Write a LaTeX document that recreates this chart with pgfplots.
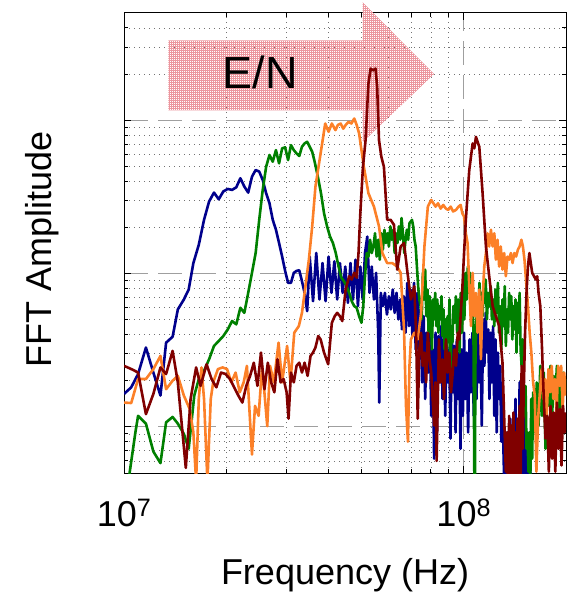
\documentclass[border=0pt]{standalone}
\usepackage{fontspec}
\setmainfont{Liberation Sans}
\usepackage{pgfplots}
\usetikzlibrary{patterns}
\pgfplotsset{compat=1.18}

\definecolor{cnavy}{RGB}{0,0,140}
\definecolor{cgreen}{RGB}{0,128,0}
\definecolor{corange}{RGB}{252,128,40}
\definecolor{cdred}{RGB}{128,0,0}
\definecolor{carrow}{RGB}{236,150,158}

% fine red mesh used for the E/N arrow
\pgfdeclarepatternformonly{finegrid}{\pgfqpoint{-1pt}{-1pt}}{\pgfqpoint{3pt}{3pt}}{\pgfqpoint{2pt}{2pt}}{
  \pgfsetlinewidth{0.5pt}
  \pgfpathmoveto{\pgfqpoint{0pt}{1pt}}\pgfpathlineto{\pgfqpoint{2pt}{1pt}}
  \pgfpathmoveto{\pgfqpoint{1pt}{0pt}}\pgfpathlineto{\pgfqpoint{1pt}{2pt}}
  \pgfusepath{stroke}
}

\begin{document}
\begin{tikzpicture}
\useasboundingbox (-124pt,-120pt) rectangle (446pt,473pt);
\begin{axis}[
    at={(0,0)}, anchor=south west,
    scale only axis, width=442pt, height=460pt,
    xmode=log, ymode=log,
    xmin=1e7, xmax=2e8, ymin=0.005, ymax=5,
    clip mode=individual,
    xtick={1e7,1e8},
    xticklabels={10\textsuperscript{7},10\textsuperscript{8}},
    minor xtick={2e7,3e7,4e7,5e7,6e7,7e7,8e7,9e7,2e8},
    ytick={0.01,0.1,1},
    minor ytick={0.006,0.007,0.008,0.009,0.02,0.03,0.04,0.05,0.06,0.07,0.08,0.09,0.2,0.3,0.4,0.5,0.6,0.7,0.8,0.9,2,3,4},
    yticklabels={},
    grid=both,
    major grid style={gray!75, line width=0.8pt, dash pattern=on 24pt off 10pt},
    minor grid style={black!55, line width=0.6pt, dash pattern=on 1pt off 4pt},
    axis line style={black, line width=1pt},
    tick style={black, line width=0.8pt},
    major tick length=7pt, minor tick length=4pt,
    ticklabel style={font=\fontsize{36}{40}\selectfont},
    xticklabel style={anchor=base, yshift=-53pt},
    xlabel={Frequency (Hz)},
    ylabel={FFT Amplitude},
    every axis x label/.style={at={(axis description cs:0.5,0)}, anchor=base, yshift=-111pt,
      font=\fontsize{36}{40}\selectfont},
    every axis y label/.style={at={(axis description cs:0,0.487)}, xshift=-73pt, rotate=90,
      anchor=base, font=\fontsize{36}{40}\selectfont},
    every axis plot/.append style={line width=2.6pt, line join=round},
  ]

  % E/N arrow (drawn first, under the curves)
  \path[pattern=finegrid, pattern color=carrow]
    (axis cs:13.5e6,1.16) -- (axis cs:50.4e6,1.16) -- (axis cs:50.4e6,0.72)
    -- (axis cs:81.8e6,2.0) -- (axis cs:50.4e6,5.87) -- (axis cs:50.4e6,3.31)
    -- (axis cs:13.5e6,3.31) -- cycle;
  \node[font=\fontsize{45}{50}\selectfont] at (axis cs:25.2e6,2.05) {E/N};

  % lowest E/N
  \addplot[cnavy] coordinates {
    (10.0e6,0.0164) (10.5e6,0.0181) (11.0e6,0.0221) (11.6e6,0.0329) (12.2e6,0.0226)
    (12.8e6,0.0160) (13.3e6,0.0354) (13.9e6,0.0387) (14.4e6,0.0583) (15.0e6,0.0677)
    (15.5e6,0.0786) (16.0e6,0.117) (16.6e6,0.154) (17.2e6,0.224) (17.8e6,0.295)
    (18.4e6,0.337) (19.0e6,0.305) (19.6e6,0.343) (20.2e6,0.356) (20.8e6,0.351)
    (21.4e6,0.365) (22.0e6,0.418) (22.6e6,0.369) (23.2e6,0.337) (23.8e6,0.428)
    (24.4e6,0.473) (25.0e6,0.462) (25.6e6,0.407) (26.2e6,0.334) (26.8e6,0.287)
    (27.4e6,0.224) (28.0e6,0.193) (28.6e6,0.158) (29.2e6,0.129) (29.8e6,0.104)
    (30.4e6,0.0869) (31.0e6,0.0869) (31.6e6,0.101) (32.2e6,0.104) (32.8e6,0.105)
    (33.4e6,0.089) (34.0e6,0.0748) (34.6e6,0.0568) (35.2e6,0.129) (36.0e6,0.066)
    (36.8e6,0.136) (37.6e6,0.0677) (38.4e6,0.117) (39.2e6,0.066) (40.0e6,0.129)
    (40.8e6,0.0748) (41.6e6,0.120) (42.4e6,0.0677) (43.2e6,0.117) (44.0e6,0.0748)
    (44.8e6,0.111) (45.6e6,0.0644) (46.4e6,0.117) (47.2e6,0.0677) (48.0e6,0.123)
    (48.8e6,0.0613) (49.6e6,0.111) (50.4e6,0.0677) (51.2e6,0.136) (52.0e6,0.174)
    (52.8e6,0.0748) (53.6e6,0.111) (54.4e6,0.0677) (55.2e6,0.101) (56.0e6,0.0411)
    (56.4e6,0.0144) (57.0e6,0.0748) (57.8e6,0.0613) (58.6e6,0.0748) (59.4e6,0.054)
    (60.2e6,0.0711) (61.0e6,0.0583) (61.8e6,0.0786) (62.6e6,0.0554) (63.4e6,0.0748)
    (64.2e6,0.0502) (65.0e6,0.0677) (65.8e6,0.0432) (66.6e6,0.0711) (67.4e6,0.0411)
    (68.2e6,0.0869) (69.0e6,0.0454) (69.8e6,0.0786) (70.6e6,0.0391) (71.4e6,0.0869)
    (72.2e6,0.032) (73.0e6,0.0748) (73.8e6,0.0276) (74.6e6,0.0583) (75.4e6,0.0195)
    (76.2e6,0.0527) (77.0e6,0.0152) (77.8e6,0.0411) (78.6e6,0.0226) (79.4e6,0.0502)
    (80.2e6,0.0118) (81.0e6,0.032) (81.8e6,0.0062) (82.6e6,0.0411) (83.4e6,0.0092)
    (84.2e6,0.0391) (85.0e6,0.0195) (85.8e6,0.0454) (86.6e6,0.0152) (87.4e6,0.0372)
    (88.2e6,0.0118) (89.0e6,0.0411) (89.8e6,0.0195) (90.6e6,0.032) (91.4e6,0.0084)
    (92.2e6,0.0411) (93.0e6,0.0168) (93.8e6,0.0337) (94.6e6,0.0092) (95.4e6,0.0372)
    (96.2e6,0.0152) (97.0e6,0.0305) (97.8e6,0.0072) (98.6e6,0.032) (99.4e6,0.0118)
    (100.2e6,0.0411) (101e6,0.0152) (102e6,0.0305) (103e6,0.0092) (104e6,0.0372)
    (105e6,0.0168) (106e6,0.0411) (107e6,0.0118) (108e6,0.032) (109e6,0.0152)
    (110e6,0.0432) (111e6,0.0195) (112e6,0.0354) (113e6,0.0102) (114e6,0.0502)
    (115e6,0.025) (116e6,0.0554) (117e6,0.0305) (118e6,0.0432) (119e6,0.0152)
    (120e6,0.0411) (121e6,0.0195) (122e6,0.0454) (123e6,0.0118) (124e6,0.0372)
    (125e6,0.0092) (126e6,0.0305) (127e6,0.0152) (128e6,0.025) (129e6,0.008)
    (130e6,0.0195) (131e6,0.0062) (132e6,0.0034) (133e6,0.0044) (134e6,0.0092)
    (135e6,0.0034) (136e6,0.0051) (137e6,0.0113) (138e6,0.0034) (139e6,0.0072)
    (140e6,0.0034) (142e6,0.0152) (143e6,0.0044) (144e6,0.0092) (145e6,0.0034)
    (146e6,0.0195) (147e6,0.0056) (148e6,0.0118) (149e6,0.0034) (150e6,0.0084)
    (151e6,0.0034) (152e6,0.0118) (153e6,0.0034) (154e6,0.0062) (155e6,0.0034)
    (157e6,0.0051) (160e6,0.0034) (200e6,0.0034)
  };

  \addplot[cgreen] coordinates {
    (10.3e6,0.0044) (10.8e6,0.0092) (11.0e6,0.0118) (11.6e6,0.0105) (12.2e6,0.0069)
    (12.8e6,0.0058) (13.3e6,0.0107) (13.9e6,0.0116) (14.4e6,0.0105) (15.0e6,0.009)
    (15.5e6,0.0072) (16.1e6,0.016) (16.6e6,0.0205) (17.2e6,0.0232) (17.8e6,0.0276)
    (18.4e6,0.0337) (19.0e6,0.0363) (19.6e6,0.0391) (20.2e6,0.0432) (20.8e6,0.049)
    (21.4e6,0.0466) (22.0e6,0.0598) (22.6e6,0.0554) (23.2e6,0.0748) (23.8e6,0.101)
    (24.4e6,0.136) (25.0e6,0.224) (25.6e6,0.351) (26.2e6,0.497) (26.8e6,0.593)
    (27.4e6,0.536) (28.0e6,0.638) (28.6e6,0.523) (29.2e6,0.655) (29.8e6,0.665)
    (30.4e6,0.549) (31.0e6,0.688) (31.6e6,0.638) (32.2e6,0.607) (32.8e6,0.584)
    (33.4e6,0.671) (34.0e6,0.705) (34.6e6,0.723) (35.2e6,0.671) (35.8e6,0.622)
    (36.4e6,0.536) (37.2e6,0.428) (38.0e6,0.334) (38.8e6,0.247) (39.6e6,0.203)
    (40.4e6,0.174) (41.2e6,0.158) (42.0e6,0.136) (42.8e6,0.111) (43.6e6,0.094)
    (44.4e6,0.089) (45.2e6,0.0826) (46.0e6,0.0748) (46.8e6,0.066) (47.6e6,0.0613)
    (48.4e6,0.0598) (49.2e6,0.0527) (50.0e6,0.0477) (50.6e6,0.0613) (51.2e6,0.096)
    (51.8e6,0.136) (52.4e6,0.129) (53.0e6,0.166) (53.6e6,0.136) (54.2e6,0.150)
    (54.8e6,0.183) (55.4e6,0.129) (56.0e6,0.166) (56.6e6,0.123) (57.2e6,0.183)
    (57.8e6,0.143) (58.4e6,0.193) (59.0e6,0.158) (59.6e6,0.183) (60.2e6,0.150)
    (60.8e6,0.203) (61.4e6,0.166) (62.0e6,0.193) (62.6e6,0.136) (63.2e6,0.183)
    (63.8e6,0.158) (64.4e6,0.203) (65.0e6,0.166) (65.6e6,0.23) (66.2e6,0.183)
    (66.8e6,0.136) (67.4e6,0.166) (68.0e6,0.193) (68.6e6,0.166) (69.2e6,0.213)
    (69.8e6,0.218) (70.4e6,0.224) (71.0e6,0.203) (71.6e6,0.166) (72.2e6,0.150)
    (72.8e6,0.111) (73.4e6,0.0826) (74.0e6,0.0677) (74.6e6,0.0613) (75.2e6,0.0502)
    (75.8e6,0.101) (76.4e6,0.0677) (77.0e6,0.106) (77.6e6,0.0527) (78.2e6,0.0786)
    (78.8e6,0.0411) (79.4e6,0.0711) (80.0e6,0.0527) (80.6e6,0.032) (81.2e6,0.0677)
    (81.8e6,0.0502) (82.4e6,0.0748) (83.0e6,0.0454) (83.6e6,0.0677) (84.2e6,0.0411)
    (84.8e6,0.0613) (85.4e6,0.0502) (86.0e6,0.0711) (86.6e6,0.0391) (87.2e6,0.0583)
    (87.8e6,0.032) (88.4e6,0.0502) (89.0e6,0.025) (89.6e6,0.0527) (90.2e6,0.0411)
    (90.8e6,0.0677) (91.4e6,0.0195) (92.0e6,0.0454) (92.6e6,0.0354) (93.2e6,0.0613)
    (94.0e6,0.0477) (94.8e6,0.0711) (95.6e6,0.0411) (96.4e6,0.0677) (97.2e6,0.0305)
    (98.0e6,0.0748) (98.8e6,0.0411) (99.6e6,0.0826) (100.4e6,0.0502) (101.2e6,0.101)
    (102.0e6,0.0677) (102.8e6,0.111) (103.6e6,0.0748) (104.4e6,0.101) (105.2e6,0.0554)
    (106.0e6,0.0826) (106.8e6,0.0411) (107.4e6,0.0051) (107.8e6,0.0034) (108.2e6,0.025)
    (108.8e6,0.0454) (109.6e6,0.0677) (110.4e6,0.0502) (111.2e6,0.0869) (112.0e6,0.0583)
    (112.8e6,0.0748) (113.6e6,0.0527) (114.4e6,0.0826) (115.2e6,0.0644) (116e6,0.0913)
    (117e6,0.0502) (118e6,0.0748) (119e6,0.0613) (120e6,0.0826) (121e6,0.0502)
    (122e6,0.0677) (123e6,0.0454) (124e6,0.0786) (125e6,0.0554) (126e6,0.0869)
    (127e6,0.0411) (128e6,0.0613) (129e6,0.032) (130e6,0.0677) (131e6,0.0454)
    (132e6,0.0826) (133e6,0.0337) (134e6,0.0583) (135e6,0.0411) (136e6,0.0748)
    (137e6,0.0502) (138e6,0.0711) (139e6,0.0372) (140e6,0.0613) (141e6,0.0432)
    (142e6,0.0677) (143e6,0.0305) (144e6,0.0644) (145e6,0.0411) (146e6,0.0748)
    (147e6,0.032) (148e6,0.025) (149e6,0.0372) (150e6,0.0185) (151e6,0.0118)
    (152e6,0.0185) (153e6,0.0072) (154e6,0.0092) (155e6,0.0051) (156e6,0.0092)
    (157e6,0.0044) (158e6,0.0152) (159e6,0.0062) (160e6,0.0168) (162e6,0.0092)
    (164e6,0.0195) (166e6,0.0102) (168e6,0.025) (170e6,0.0118) (172e6,0.0226)
    (174e6,0.0072) (176e6,0.0195) (178e6,0.0137) (180e6,0.025) (182e6,0.0118)
    (184e6,0.0215) (186e6,0.0152) (188e6,0.025) (190e6,0.0131) (192e6,0.0215)
    (194e6,0.0102) (196e6,0.0226) (198e6,0.0168) (200e6,0.0205)
  };

  \addplot[corange] coordinates {
    (10.0e6,0.0144) (10.5e6,0.0143) (11.0e6,0.0205) (11.6e6,0.0205) (12.2e6,0.0238)
    (12.8e6,0.029) (13.3e6,0.0176) (13.9e6,0.02) (14.4e6,0.0215) (15.0e6,0.016)
    (15.6e6,0.0131) (16.0e6,0.0092) (16.3e6,0.0044) (16.6e6,0.0152) (16.9e6,0.0244)
    (17.2e6,0.0152) (17.6e6,0.0044) (18.0e6,0.0152) (18.3e6,0.0195) (18.9e6,0.0238)
    (19.5e6,0.0244) (20.1e6,0.0238) (20.7e6,0.0195) (21.3e6,0.0226) (21.9e6,0.0168)
    (22.5e6,0.0195) (23.0e6,0.025) (23.8e6,0.0066) (24.3e6,0.0137) (24.9e6,0.0118)
    (25.5e6,0.025) (26.4e6,0.0101) (26.9e6,0.025) (27.6e6,0.0195) (28.5e6,0.0354)
    (29.2e6,0.0195) (30.2e6,0.0337) (30.9e6,0.0195) (31.7e6,0.0411) (32.7e6,0.0454)
    (33.4e6,0.0554) (34.2e6,0.0826) (35.0e6,0.123) (35.8e6,0.203) (36.6e6,0.369)
    (37.9e6,0.607) (39.1e6,0.951) (40.0e6,0.84) (40.9e6,0.951) (41.9e6,0.861)
    (42.6e6,0.93) (43.4e6,0.951) (44.2e6,0.88) (44.9e6,0.93) (45.8e6,0.975)
    (46.7e6,0.951) (47.6e6,1.025) (48.4e6,0.93) (49.2e6,0.819) (50.8e6,0.497)
    (52.4e6,0.334) (54.4e6,0.273) (56.3e6,0.203) (57.6e6,0.136) (59.5e6,0.117)
    (61.6e6,0.117) (63.7e6,0.111) (65.2e6,0.101) (66.7e6,0.0432) (67.6e6,0.0137)
    (68.5e6,0.008) (69.2e6,0.025) (69.9e6,0.0372) (71.5e6,0.0411) (73.2e6,0.0372)
    (74.9e6,0.0554) (76.6e6,0.150) (78.4e6,0.273) (80.2e6,0.302) (82.6e6,0.273)
    (84.0e6,0.287) (85.5e6,0.265) (87.0e6,0.28) (88.6e6,0.265) (90.0e6,0.26)
    (91.5e6,0.273) (93.0e6,0.254) (94.9e6,0.26) (96.5e6,0.273) (97.9e6,0.28)
    (99.0e6,0.247) (100.2e6,0.235) (101.4e6,0.183) (102.6e6,0.158) (103.8e6,0.0826)
    (105.0e6,0.0454) (106.2e6,0.101) (107.4e6,0.0527) (108.6e6,0.0748) (109.8e6,0.0411)
    (111.1e6,0.0786) (112.3e6,0.0276) (113.6e6,0.0677) (114.9e6,0.111) (116.2e6,0.136)
    (117.5e6,0.183) (118.8e6,0.150) (120.2e6,0.193) (121.6e6,0.150) (123.0e6,0.183)
    (124.3e6,0.123) (125.7e6,0.166) (127.1e6,0.111) (128.5e6,0.150) (130.0e6,0.106)
    (131.5e6,0.136) (133.0e6,0.096) (134.5e6,0.129) (136.0e6,0.123) (137.6e6,0.136)
    (139.2e6,0.117) (140.9e6,0.136) (142.6e6,0.129) (144.3e6,0.143) (146.0e6,0.150)
    (147.8e6,0.166) (149.3e6,0.150) (150.9e6,0.123) (152.7e6,0.0869) (154.5e6,0.0613)
    (156.3e6,0.0411) (158.1e6,0.0305) (160.0e6,0.0195) (161.8e6,0.016) (163.6e6,0.0051)
    (165.5e6,0.0113) (167.5e6,0.0168) (169.5e6,0.0238) (171.5e6,0.0152) (173.5e6,0.0205)
    (175.5e6,0.0118) (177.5e6,0.0238) (179.5e6,0.0168) (181.5e6,0.025) (183.5e6,0.0152)
    (185.5e6,0.0205) (187.5e6,0.0118) (189.5e6,0.025) (191.5e6,0.0185) (193.5e6,0.025)
    (195.5e6,0.0131) (197.5e6,0.0226) (200e6,0.016)
  };

  % highest E/N
  \addplot[cdred] coordinates {
    (10.0e6,0.025) (10.6e6,0.0236) (11.0e6,0.0226) (11.6e6,0.0121) (12.2e6,0.0164)
    (12.8e6,0.0244) (13.3e6,0.0221) (13.9e6,0.0313) (14.4e6,0.0195) (15.2e6,0.0054)
    (15.7e6,0.0152) (16.3e6,0.0244) (16.8e6,0.0185) (17.5e6,0.0256) (18.1e6,0.0205)
    (18.7e6,0.0181) (19.3e6,0.0226) (19.9e6,0.0221) (20.5e6,0.0205) (21.1e6,0.0181)
    (21.7e6,0.016) (22.3e6,0.0144) (22.9e6,0.0185) (23.5e6,0.0215) (24.1e6,0.0262)
    (24.7e6,0.0185) (25.3e6,0.0305) (25.9e6,0.0176) (26.5e6,0.0262) (27.1e6,0.0195)
    (27.7e6,0.0168) (28.3e6,0.0276) (28.9e6,0.0195) (29.5e6,0.0205) (30.1e6,0.0168)
    (30.5e6,0.0113) (31.0e6,0.0226) (31.6e6,0.0195) (32.2e6,0.025) (32.8e6,0.0262)
    (33.4e6,0.0226) (34.0e6,0.0262) (34.7e6,0.0215) (35.4e6,0.029) (36.0e6,0.0305)
    (36.6e6,0.0329) (37.3e6,0.0391) (37.9e6,0.0372) (38.8e6,0.0305) (39.9e6,0.0256)
    (40.9e6,0.0477) (41.7e6,0.0527) (42.4e6,0.0554) (43.2e6,0.0527) (43.9e6,0.049)
    (44.9e6,0.0786) (46.0e6,0.096) (46.8e6,0.0913) (47.6e6,0.101) (48.4e6,0.094)
    (49.0e6,0.136) (49.6e6,0.247) (50.5e6,0.497) (51.4e6,0.741) (52.4e6,1.73)
    (53.2e6,2.17) (54.0e6,2.11) (55.0e6,2.17) (55.6e6,1.65) (56.3e6,0.741)
    (57.2e6,0.578) (58.2e6,0.497) (59.5e6,0.224) (60.9e6,0.224) (62.3e6,0.208)
    (63.7e6,0.106) (65.2e6,0.150) (66.7e6,0.158) (68.3e6,0.101) (69.9e6,0.0677)
    (71.5e6,0.0826) (72.4e6,0.0411) (73.2e6,0.0113) (74.0e6,0.032) (74.9e6,0.0411)
    (75.7e6,0.025) (76.6e6,0.0305) (77.5e6,0.0195) (78.4e6,0.0411) (79.3e6,0.0276)
    (80.2e6,0.0226) (81.0e6,0.0152) (81.8e6,0.0102) (82.5e6,0.0195) (83.2e6,0.006)
    (84.5e6,0.0372) (85.5e6,0.0195) (86.5e6,0.0276) (87.5e6,0.0152) (88.6e6,0.0372)
    (89.6e6,0.0226) (90.7e6,0.0305) (91.7e6,0.0168) (92.8e6,0.0226) (93.8e6,0.032)
    (94.9e6,0.025) (96.0e6,0.0411) (97.0e6,0.0372) (98.0e6,0.0554) (99.1e6,0.0826)
    (100.2e6,0.136) (101.4e6,0.224) (103.8e6,0.473) (106.2e6,0.705) (107.4e6,0.655)
    (108.6e6,0.779) (109.8e6,0.723) (111.1e6,0.671) (113.6e6,0.334) (116.2e6,0.150)
    (118.8e6,0.096) (121.6e6,0.0613) (124.3e6,0.0527) (127.1e6,0.0454) (130.0e6,0.0262)
    (133.0e6,0.0051) (134e6,0.0092) (135e6,0.0034) (136e6,0.0118) (137e6,0.0044)
    (138e6,0.0102) (139e6,0.0034) (140e6,0.0124) (141e6,0.0034) (142e6,0.0092)
    (143e6,0.0037) (144e6,0.0113) (145e6,0.0034) (146e6,0.0137) (147e6,0.0044)
    (148e6,0.025) (149e6,0.0072) (150e6,0.0152) (151.5e6,0.0411) (153e6,0.0748)
    (154.5e6,0.111) (156e6,0.136) (157.5e6,0.117) (159e6,0.101) (161e6,0.096)
    (163e6,0.0913) (164.5e6,0.096) (166e6,0.0748) (168e6,0.0613) (170e6,0.032)
    (172e6,0.0152) (174e6,0.0084) (176e6,0.0118) (178e6,0.0051) (180e6,0.0137)
    (182e6,0.0062) (184e6,0.0124) (186e6,0.0051) (188e6,0.0144) (190e6,0.0072)
    (192e6,0.0131) (194e6,0.0056) (196e6,0.0137) (198e6,0.0092) (200e6,0.0124)
  };
\end{axis}
\end{tikzpicture}
\end{document}
